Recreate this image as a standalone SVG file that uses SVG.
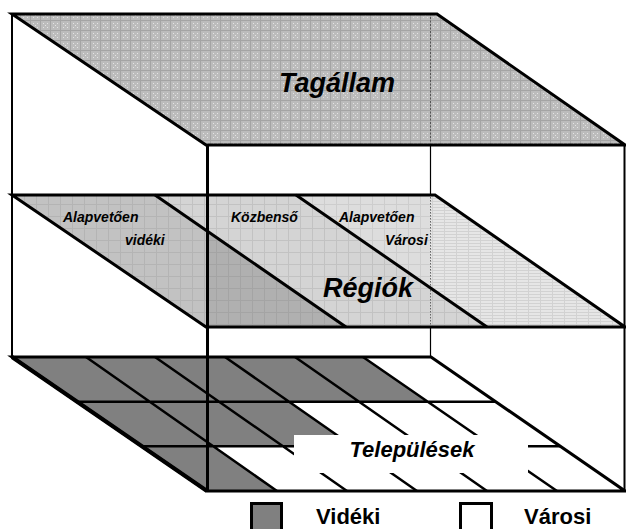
<svg xmlns="http://www.w3.org/2000/svg" width="626" height="529" viewBox="0 0 626 529">
<style>
.ln{stroke:#000;fill:none;stroke-linejoin:miter;stroke-linecap:butt}
.bi{font-family:"Liberation Sans",Arial,sans-serif;font-weight:bold;font-style:italic;fill:#000}
.b{font-family:"Liberation Sans",Arial,sans-serif;font-weight:bold;fill:#000}
</style>
<defs>
<pattern id="pTop" width="10" height="10" patternUnits="userSpaceOnUse">
<rect width="10" height="10" fill="#bcbcbc"/>
<path d="M0 0.5H10M0.5 0V10" stroke="#a4a4a4" stroke-width="1"/>
<rect x="3" y="3" width="1" height="1" fill="#e4e4e4"/>
<rect x="7" y="3" width="1" height="1" fill="#e4e4e4"/>
<rect x="5" y="5" width="1" height="1" fill="#e4e4e4"/>
<rect x="3" y="7" width="1" height="1" fill="#e4e4e4"/>
<rect x="7" y="7" width="1" height="1" fill="#e4e4e4"/>
</pattern>
<pattern id="pLeft" width="12" height="12" patternUnits="userSpaceOnUse">
<rect width="12" height="12" fill="#c2c2c2"/>
<path d="M0 0.5H12M0.5 0V12" stroke="#b4b4b4" stroke-width="1"/>
</pattern>
<pattern id="pLeftDark" width="12" height="12" patternUnits="userSpaceOnUse">
<rect width="12" height="12" fill="#b0b0b0"/>
<path d="M0 0.5H12M0.5 0V12" stroke="#a4a4a4" stroke-width="1"/>
</pattern>
<pattern id="pMid" width="12" height="12" patternUnits="userSpaceOnUse">
<rect width="12" height="12" fill="#d4d4d4"/>
<path d="M0 0.5H12M0.5 0V12" stroke="#c2c2c2" stroke-width="1"/>
</pattern>
<pattern id="pRight" width="12" height="12" patternUnits="userSpaceOnUse">
<rect width="12" height="12" fill="#dddddd"/>
<path d="M0 0.5H12M0.5 0V12" stroke="#cdcdcd" stroke-width="1"/>
</pattern>
<pattern id="pRightH" width="12" height="3" patternUnits="userSpaceOnUse">
<rect width="12" height="3" fill="#e6e6e6"/>
<path d="M0 0.5H12M0.5 0V3" stroke="#d2d2d2" stroke-width="1"/>
</pattern>
</defs>

<rect width="626" height="529" fill="#fff"/>

<g id="back-box">
<path class="ln" d="M12 14V357" stroke-width="2"/>
<path class="ln" d="M430.5 14V357" stroke-width="1.2"/>
</g>

<g id="tagallam">
<polygon points="12,14 437,14 625,145 206,145" fill="url(#pTop)"/>
<path d="M430.5 17V143" stroke="#555" stroke-width="1" stroke-dasharray="2,1.5" fill="none"/>
<polygon class="ln" points="12,14 437,14 625,145 206,145" stroke-width="3"/>
<text class="bi" x="337" y="92" font-size="27" text-anchor="middle">Tagállam</text>
</g>

<g id="regiok">
<polygon points="12,195 155,195 346,327 206,327" fill="url(#pLeft)"/>
<polygon points="207,231 346,327 207,327" fill="url(#pLeftDark)"/>
<polygon points="155,195 296,195 487,327 346,327" fill="url(#pMid)"/>
<polygon points="296,195 430,195 430,287.6" fill="url(#pRight)"/>
<polygon points="430,195 435,195 625,327 487,327 430,287.6" fill="url(#pRightH)"/>
<path d="M430.5 197V325" stroke="#666" stroke-width="1" stroke-dasharray="1.5,1.5" fill="none"/>
<path class="ln" d="M155 195L346 327M296 195L487 327" stroke-width="3"/>
<polygon class="ln" points="12,195 435,195 625,327 206,327" stroke-width="3"/>
<text class="bi" x="63" y="222" font-size="14">Alapvetően</text>
<text class="bi" x="125" y="245" font-size="14">vidéki</text>
<text class="bi" x="231" y="222" font-size="14">Közbenső</text>
<text class="bi" x="339" y="222" font-size="14">Alapvetően</text>
<text class="bi" x="385" y="245" font-size="14">Városi</text>
<text class="bi" x="323" y="297" font-size="27">Régiók</text>
</g>

<g id="telepulesek">
<polygon points="12,357 431,357 625,491 207,491" fill="#fff"/>
<polygon points="12,357 363,357 427.7,401.7 289,401.7 353,446.3 213.3,446.3 277,491 207,491" fill="#808080"/>
<path class="ln" stroke-width="2.5" d="M86 357L277 491M155 357L347 491M225 357L417 491M295 357L487 491M363 357L557 491M77 401.7H496M142 446.3H561"/>
<polygon class="ln" points="12,357 431,357 625,491 207,491" stroke-width="3"/>
<path class="ln" d="M12 357L207 491" stroke-width="4"/>
<rect x="294" y="435" width="234" height="38" fill="#fff"/>
<text class="bi" x="412" y="457" font-size="22" text-anchor="middle">Települések</text>
</g>

<g id="front-box">
<path class="ln" d="M207.5 145V491" stroke-width="3"/>
<path class="ln" d="M624.5 145V491" stroke-width="2"/>
</g>

<g id="legend-videki">
<rect x="251.5" y="503.5" width="30" height="40" fill="#808080" stroke="#000" stroke-width="3"/>
<text class="b" x="316" y="524" font-size="22">Vidéki</text>
</g>
<g id="legend-varosi">
<rect x="460.5" y="503.5" width="31" height="40" fill="#fff" stroke="#000" stroke-width="3"/>
<text class="b" x="524" y="524" font-size="22">Városi</text>
</g>
<g id="connectors"></g>
</svg>
